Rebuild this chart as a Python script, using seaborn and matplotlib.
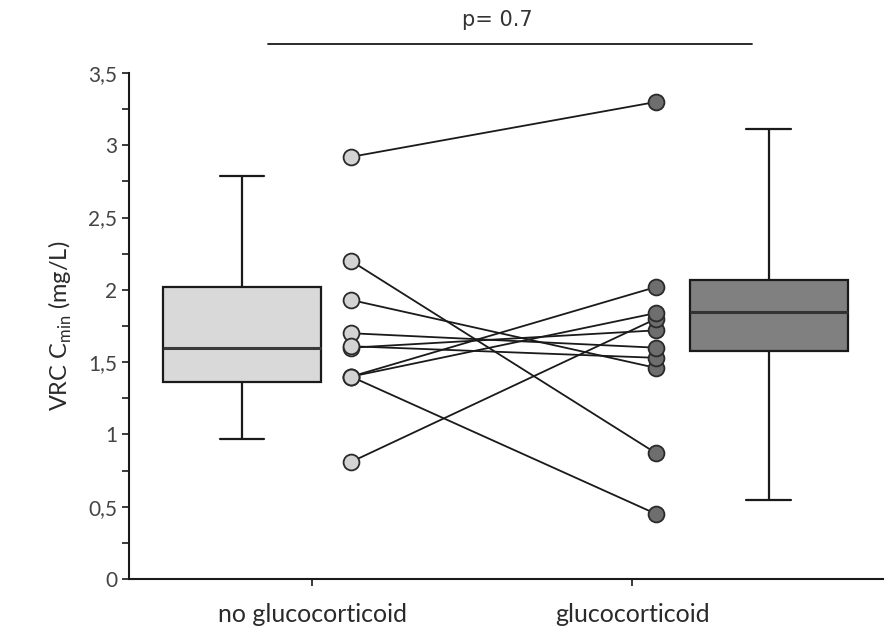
import numpy as np
import pandas as pd
import matplotlib
matplotlib.use("Agg")
import matplotlib.pyplot as plt
import seaborn as sns


# Group labels and y tick labels (comma decimals as in the original)
groups = ["no glucocorticoid", "glucocorticoid"]
y_ticks = [0, 0.5, 1, 1.5, 2, 2.5, 3, 3.5]
y_tick_labels = ["0", "0,5", "1", "1,5", "2", "2,5", "3", "3,5"]

# Box summaries: whisker low, Q1, median, Q3, whisker high
no_gc_box = [0.97, 1.36, 1.60, 2.02, 2.79]
gc_box = [0.55, 1.58, 1.85, 2.07, 3.11]

# Paired patients: value without and with glucocorticoid
no_gc_pairs = [2.92, 2.20, 1.93, 1.70, 1.60, 1.61, 1.40, 1.40, 1.40, 0.81]
gc_pairs = [3.30, 0.87, 1.46, 1.60, 1.72, 1.53, 2.02, 1.84, 0.45, 1.80]

p_text = "p= 0.7"

sns.set_theme(style="ticks")

fig = plt.figure(figsize=(8.89, 6.41), dpi=100)
ax = fig.add_axes([0.1451, 0.0967, 0.8482, 0.7894])

# Boxes: a five-number summary gives exactly these quartiles, whiskers to the ends
box_specs = [(-0.219, no_gc_box, "#d9d9d9", "#3a3a3a"),
             (1.427, gc_box, "#808080", "#333333")]
for pos, vals, fill, med in box_specs:
    df_box = pd.DataFrame({"pos": [pos] * len(vals), "value": vals})
    sns.boxplot(data=df_box, x="pos", y="value", native_scale=True, whis=np.inf,
                width=0.494, color=fill, saturation=1, linecolor="#1a1a1a",
                linewidth=1.6, capwidths=0.14, ax=ax,
                medianprops=dict(color=med, linewidth=2.2))

# Paired lines and points
left_x, right_x = 0.122, 1.075
pairs = pd.DataFrame({
    "pid": list(range(len(no_gc_pairs))) * 2,
    "pos": [left_x] * len(no_gc_pairs) + [right_x] * len(gc_pairs),
    "value": no_gc_pairs + gc_pairs,
})
sns.lineplot(data=pairs, x="pos", y="value", units="pid", estimator=None,
             color="#1a1a1a", linewidth=1.3, ax=ax)
sns.scatterplot(x=[left_x] * len(no_gc_pairs), y=no_gc_pairs, s=130,
                color="#d3d3d3", edgecolor="#2a2a2a", linewidth=1.3, zorder=4, ax=ax)
# draw low to high so the upper points of the cluster sit on top
gc_sorted = sorted(gc_pairs)
sns.scatterplot(x=[right_x] * len(gc_sorted), y=gc_sorted, s=130,
                color="#6e6e6e", edgecolor="#2a2a2a", linewidth=1.3, zorder=4, ax=ax)

# Axes styling
ax.set_xlim(-0.572, 1.784)
ax.set_ylim(0, 3.5)
ax.set_xticks([0, 1])
ax.set_xticklabels(groups, fontsize=18, family="Lato", color="#2a2a2a")
ax.set_yticks(y_ticks)
ax.set_yticklabels(y_tick_labels, fontsize=15, family="Lato", color="#444444")
ax.set_yticks(np.arange(0.25, 3.5, 0.5), minor=True)
ax.tick_params(axis="both", which="both", direction="out", length=5, width=1.2,
               color="#1a1a1a")
ax.tick_params(axis="x", pad=12)
ax.set_xlabel("")
ax.set_ylabel(r"VRC C$_\mathregular{min}$ (mg/L)", fontsize=17, family="Lato",
              color="#2a2a2a", labelpad=10)
for side in ["top", "right"]:
    ax.spines[side].set_visible(False)
for side in ["left", "bottom"]:
    ax.spines[side].set_linewidth(1.5)
    ax.spines[side].set_color("#1a1a1a")

# Significance bar above the plot
ax.plot([-0.1375, 1.375], [3.70, 3.70], color="#1a1a1a", linewidth=1.3, clip_on=False)
ax.text(0.58, 3.87, p_text, ha="center", va="center", fontsize=15,
        family="DejaVu Sans", color="#333333", clip_on=False)

fig.savefig("out.png", dpi=100)
